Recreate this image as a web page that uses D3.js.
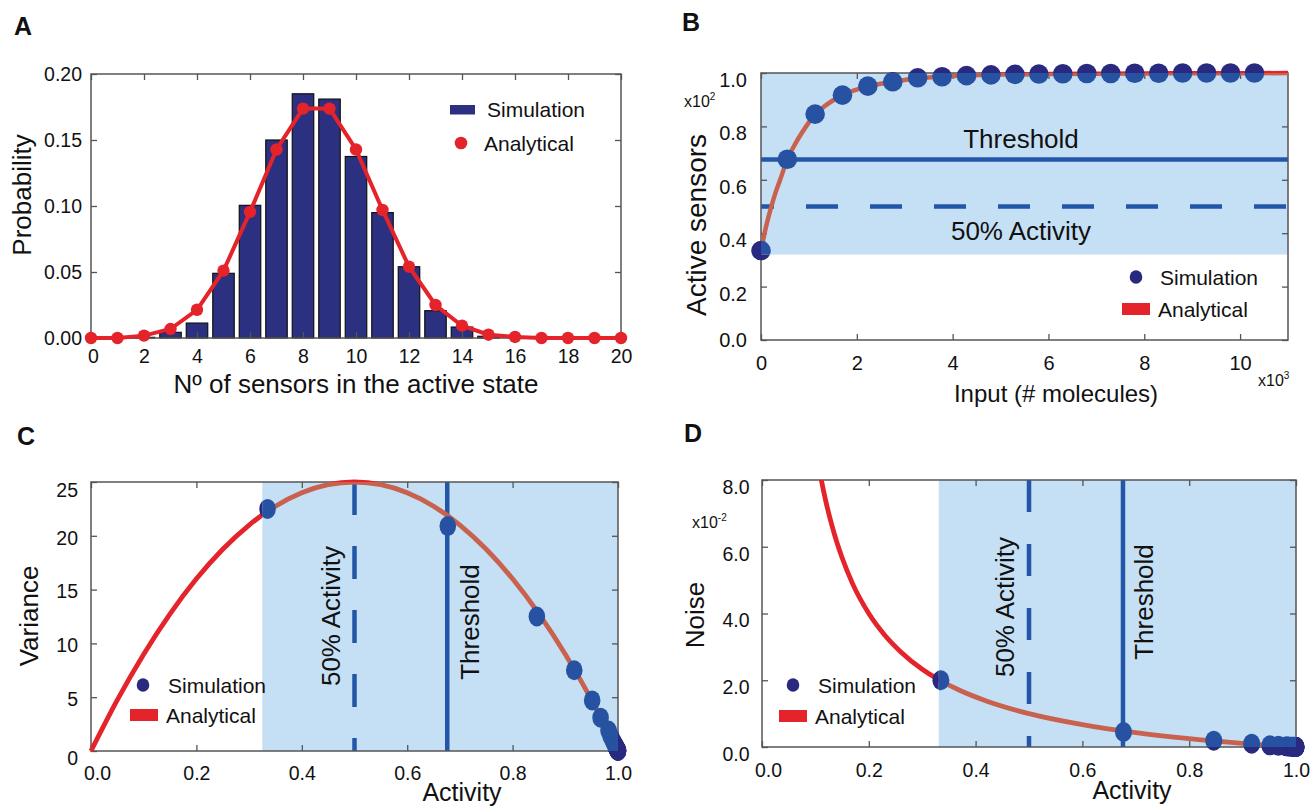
<!DOCTYPE html>
<html>
<head>
<meta charset="utf-8">
<script src="https://cdn.jsdelivr.net/npm/d3@7"></script>
<style>
body { margin: 0; background: #fff; }
svg text { font-family: "Liberation Sans", Arial, sans-serif; fill: #111; }
</style>
</head>
<body>
<div id="fig"></div>
<script>
// ---- data ----
// A: distribution of active sensors
var sensorCounts = [0,1,2,3,4,5,6,7,8,9,10,11,12,13,14,15,16,17,18,19,20];
var simProb = [0,0,0.0005,0.0043,0.0113,0.049,0.1005,0.150,0.185,0.181,0.1375,0.095,0.054,0.0207,0.0083,0.0013,0,0,0,0,0];
var anaProb = [0,0,0.0018,0.0068,0.0214,0.051,0.0955,0.1428,0.1738,0.1738,0.1428,0.097,0.054,0.025,0.0093,0.0025,0.0008,0,0,0,0];

// B: dose response (input x10^3, active sensors x10^2)
var simInput = [0,0.55,1.13,1.7,2.23,2.75,3.27,3.78,4.29,4.8,5.3,5.8,6.3,6.8,7.3,7.8,8.3,8.8,9.3,9.8,10.3];
var simActive = [0.335,0.677,0.846,0.917,0.951,0.967,0.982,0.986,0.99,0.993,0.995,0.996,0.997,0.998,0.998,0.999,0.999,1.0,1.0,1.0,1.0];
var curveInput = [0,0.1,0.2,0.3,0.4,0.55,0.7,0.85,1.0,1.13,1.3,1.5,1.7,2.0,2.23,2.5,2.75,3.27,3.78,4.3,5,6,7,8,9,10,11];
var curveActive = [0.335,0.42,0.49,0.55,0.60,0.677,0.73,0.775,0.815,0.846,0.872,0.897,0.917,0.938,0.951,0.96,0.967,0.98,0.987,0.991,0.994,0.996,0.997,0.998,0.999,0.999,1.0];

// C: variance vs activity
var actGrid = [0,0.05,0.1,0.15,0.2,0.25,0.3,0.35,0.4,0.45,0.5,0.55,0.6,0.65,0.7,0.75,0.8,0.85,0.9,0.95,1.0];
var anaVariance = [0,4.75,9.0,12.75,16.0,18.75,21.0,22.75,24.0,24.75,25.0,24.75,24.0,22.75,21.0,18.75,16.0,12.75,9.0,4.75,0];
var simVariance = [22.5,20.9,12.5,7.5,4.7,3.1,1.9,1.4,1.0,0.7,0.5,0.4,0.3,0.2,0.2,0.1,0.1,0.05,0.03,0.02,0.01];

// D: noise vs activity (x10^-2)
var noiseAct = [0.1,0.11,0.12,0.13,0.14,0.15,0.17,0.2,0.23,0.26,0.3,0.333,0.37,0.42,0.5,0.6,0.7,0.8,0.9,1.0];
var anaNoise = [9.0,8.09,7.33,6.69,6.14,5.67,4.88,4.0,3.35,2.85,2.33,2.0,1.7,1.38,1.0,0.67,0.43,0.25,0.11,0];
var simNoise = [2.0,0.45,0.19,0.1,0.05,0.035,0.02,0.014,0.01,0.007,0.005,0.004,0.003,0.002,0.002,0.001,0.001,0,0,0,0];

var thresholdAct = 0.676;
var halfAct = 0.5;

// ticks
var ticksAx = [0,2,4,6,8,10,12,14,16,18,20];
var ticksAy = [0,0.05,0.10,0.15,0.20];
var ticksBx = [0,2,4,6,8,10];
var ticksBy = [0,0.2,0.4,0.6,0.8,1.0];
var ticksAct = [0,0.2,0.4,0.6,0.8,1.0];
var ticksCy = [0,5,10,15,20,25];
var ticksDy = [0,2,4,6,8];

var RED = "#e4232b", BROWN = "#c8624e", NAVY = "#28297f", DOTBLUE = "#2752a1",
    LINEBLUE = "#2356a8", REGION = "#c5e0f5";

var svg = d3.select("#fig").append("svg").attr("width", 1311).attr("height", 807);
var defs = svg.append("defs");

function panel(id, left, top, w, h, xDom, yDom) {
  var g = svg.append("g").attr("transform", "translate(" + left + "," + top + ")");
  var x = d3.scaleLinear().domain(xDom).range([0, w]);
  var y = d3.scaleLinear().domain(yDom).range([h, 0]);
  defs.append("clipPath").attr("id", "plot-" + id)
    .append("rect").attr("width", w).attr("height", h);
  return { id: id, g: g, x: x, y: y, w: w, h: h };
}

// region clip (inside/outside the blue area)
function regionClips(p, x0, y0, x1, y1) {
  defs.append("clipPath").attr("id", "in-" + p.id)
    .append("rect").attr("x", x0).attr("y", y0).attr("width", x1 - x0).attr("height", y1 - y0);
  defs.append("clipPath").attr("id", "out-" + p.id)
    .append("path").attr("clip-rule", "evenodd")
    .attr("d", "M-2000,-2000H3000V3000H-2000Z M" + x0 + "," + y0 + "H" + x1 + "V" + y1 + "H" + x0 + "Z");
  p.g.append("rect").attr("x", x0).attr("y", y0).attr("width", x1 - x0).attr("height", y1 - y0)
    .attr("fill", REGION);
}

function axes(p, xTicks, yTicks, xFmt, yFmt, xPad, yPad, fs, yOff, xOff) {
  var b = p.g.append("g").attr("transform", "translate(0," + p.h + ")")
    .call(d3.axisBottom(p.x).tickValues(xTicks).tickFormat(xFmt).tickSize(-6).tickPadding(xPad));
  p.g.append("g").call(d3.axisTop(p.x).tickValues(xTicks).tickFormat("").tickSize(-6));
  var l = p.g.append("g")
    .call(d3.axisLeft(p.y).tickValues(yTicks).tickFormat(yFmt).tickSize(-6).tickPadding(yPad));
  p.g.append("g").attr("transform", "translate(" + p.w + ",0)")
    .call(d3.axisRight(p.y).tickValues(yTicks).tickFormat("").tickSize(-6));
  p.g.selectAll(".domain").remove();
  p.g.selectAll(".tick line").attr("stroke", "#555").attr("stroke-width", 1.3);
  p.g.selectAll(".tick text").attr("font-size", fs).attr("font-family", null).attr("fill", "#111");
  l.selectAll(".tick text").attr("transform", function (d) { return "translate(0," + yOff(d) + ")"; });
  b.selectAll(".tick text").attr("transform", function (d) { return "translate(" + xOff(d) + ",0)"; });
  p.g.append("rect").attr("width", p.w).attr("height", p.h)
    .attr("fill", "none").attr("stroke", "#555").attr("stroke-width", 1.5);
}

function text(x, y, s, fs, anchor, rot, weight) {
  var t = svg.append("text").attr("font-size", fs).attr("text-anchor", anchor || "start")
    .attr("transform", "translate(" + x + "," + y + ")" + (rot ? " rotate(" + rot + ")" : ""))
    .text(s);
  if (weight) t.attr("font-weight", weight);
  return t;
}

function power(x, y, exp) {
  var t = svg.append("text").attr("x", x).attr("y", y).attr("font-size", 16);
  t.append("tspan").text("x10");
  t.append("tspan").attr("font-size", 10).attr("dy", -7).text(exp);
}

function dotsTwoTone(p, xs, ys, rx, ry) {
  [["out", NAVY], ["in", DOTBLUE]].forEach(function (c) {
    p.g.append("g").attr("clip-path", "url(#" + c[0] + "-" + p.id + ")")
      .selectAll("ellipse").data(xs).join("ellipse")
      .attr("cx", function (d) { return p.x(d); })
      .attr("cy", function (d, i) { return p.y(ys[i]); })
      .attr("rx", rx).attr("ry", ry).attr("fill", c[1]);
  });
}

function curveTwoTone(p, xs, ys, width, clipPlot) {
  var line = d3.line().x(function (d) { return p.x(d); })
    .y(function (d, i) { return p.y(ys[i]); }).curve(d3.curveMonotoneX);
  var host = p.g.append("g");
  if (clipPlot) host.attr("clip-path", "url(#plot-" + p.id + ")");
  [["out", RED], ["in", BROWN]].forEach(function (c) {
    host.append("path").attr("clip-path", "url(#" + c[0] + "-" + p.id + ")")
      .attr("d", line(xs)).attr("fill", "none").attr("stroke", c[1]).attr("stroke-width", width);
  });
}

function legend(dx, dy, rx, ry, lx, ly, tx1, tx2) {
  svg.append("ellipse").attr("cx", dx).attr("cy", dy).attr("rx", 6.3).attr("ry", 6.8).attr("fill", NAVY);
  text(tx1, dy + 7.5, "Simulation", 21);
  svg.append("rect").attr("x", lx).attr("y", ly).attr("width", 28).attr("height", 12).attr("fill", RED);
  text(tx2, ly + 14, "Analytical", 21);
}

// ---------------- Panel A ----------------
var A = panel("a", 91, 74, 530, 264, [0, 20], [0, 0.2]);
var barW = 0.81;
A.g.selectAll("rect.bar").data(sensorCounts.filter(function (d, i) { return simProb[i] > 0; }))
  .join("rect").attr("class", "bar")
  .attr("x", function (d) { return A.x(d - barW / 2); })
  .attr("width", A.x(barW) - A.x(0))
  .attr("y", function (d) { return A.y(simProb[d]); })
  .attr("height", function (d) { return A.y(0) - A.y(simProb[d]); })
  .attr("fill", "#2b3080").attr("stroke", "#111").attr("stroke-width", 1.2);
axes(A, ticksAx, ticksAy, d3.format("d"), d3.format(".2f"), 11, 9, 19.5,
  function () { return 0; }, function (d) { return d === 0 ? 2 : 0; });
A.g.append("path")
  .attr("d", d3.line().x(function (d) { return A.x(d); }).y(function (d, i) { return A.y(anaProb[i]); })(sensorCounts))
  .attr("fill", "none").attr("stroke", RED).attr("stroke-width", 4);
A.g.selectAll("circle.ana").data(sensorCounts).join("circle").attr("class", "ana")
  .attr("cx", function (d) { return A.x(d); })
  .attr("cy", function (d, i) { return A.y(anaProb[i]); })
  .attr("r", 6.2).attr("fill", RED);
text(14, 35, "A", 25, "start", 0, "bold");
text(31, 195, "Probability", 26, "middle", -90);
text(356, 393, "N\u00ba of sensors in the active state", 26, "middle");
svg.append("rect").attr("x", 450).attr("y", 105).attr("width", 25).attr("height", 9.5).attr("fill", "#2b3080");
text(487, 116.5, "Simulation", 21);
svg.append("circle").attr("cx", 461).attr("cy", 143).attr("r", 6.3).attr("fill", RED);
text(484, 150.5, "Analytical", 21);

// ---------------- Panel B ----------------
var B = panel("b", 761, 73, 527, 267, [0, 11], [0, 1.0]);
regionClips(B, 0, B.y(1.0), B.w, B.y(0.32));
B.g.append("line").attr("x1", 0).attr("x2", B.w).attr("y1", B.y(thresholdAct)).attr("y2", B.y(thresholdAct))
  .attr("stroke", LINEBLUE).attr("stroke-width", 4.5);
B.g.append("line").attr("x1", 0).attr("x2", B.w).attr("y1", B.y(halfAct)).attr("y2", B.y(halfAct))
  .attr("stroke", LINEBLUE).attr("stroke-width", 4.5)
  .attr("stroke-dasharray", "32,32").attr("stroke-dashoffset", 19);
axes(B, ticksBx, ticksBy, d3.format("d"), d3.format(".1f"), 16, 14, 20,
  function (d) { return d === 0 ? 0 : 7; }, function () { return 0; });
curveTwoTone(B, curveInput, curveActive, 4.5, false);
dotsTwoTone(B, simInput, simActive, 9.8, 9.8);
text(682, 31, "B", 25, "start", 0, "bold");
text(1021, 148, "Threshold", 26, "middle");
text(1021, 240, "50% Activity", 26, "middle");
text(706, 225, "Active sensors", 28, "middle", -90);
text(1056, 402, "Input (# molecules)", 24, "middle");
power(684, 107, "2");
power(1258, 386, "3");
legend(1136, 277, 0, 0, 1122, 303, 1160, 1158);

// ---------------- Panel C ----------------
var C = panel("c", 91, 482, 527, 269, [0, 1], [0, 25]);
regionClips(C, C.x(0.325), 0, C.w, C.h);
C.g.append("line").attr("x1", C.x(halfAct)).attr("x2", C.x(halfAct)).attr("y1", 0).attr("y2", C.h)
  .attr("stroke", LINEBLUE).attr("stroke-width", 4.5).attr("stroke-dasharray", "33,31");
C.g.append("line").attr("x1", C.x(thresholdAct)).attr("x2", C.x(thresholdAct)).attr("y1", 0).attr("y2", C.h)
  .attr("stroke", LINEBLUE).attr("stroke-width", 4.5);
axes(C, ticksAct, ticksCy, d3.format(".1f"), d3.format("d"), 15.5, 13, 19.5,
  function (d) { return d === 25 ? 8 : d === 0 ? 7 : 2; }, function (d) { return d === 0 ? 6 : 0; });
curveTwoTone(C, actGrid, anaVariance, 4.8, false);
dotsTwoTone(C, simActive, simVariance, 8.3, 10);
text(17, 445, "C", 25, "start", 0, "bold");
text(340, 616, "50% Activity", 26, "middle", -90);
text(479, 622, "Threshold", 26, "middle", -90);
text(38, 616, "Variance", 26, "middle", -90);
text(462, 801, "Activity", 25, "middle");
legend(143, 685, 0, 0, 130, 709, 168, 166);

// ---------------- Panel D ----------------
var D = panel("d", 762, 480, 534, 267, [0, 1], [0, 8]);
regionClips(D, D.x(0.331), 0, D.w, D.h);
D.g.append("line").attr("x1", D.x(halfAct)).attr("x2", D.x(halfAct)).attr("y1", 0).attr("y2", D.h)
  .attr("stroke", LINEBLUE).attr("stroke-width", 4.5).attr("stroke-dasharray", "32,32");
D.g.append("line").attr("x1", D.x(thresholdAct)).attr("x2", D.x(thresholdAct)).attr("y1", 0).attr("y2", D.h)
  .attr("stroke", LINEBLUE).attr("stroke-width", 4.5);
axes(D, ticksAct, ticksDy, d3.format(".1f"), d3.format(".1f"), 16.5, 12.5, 19.5,
  function () { return 7; }, function (d) { return d === 0 ? 6 : 0; });
curveTwoTone(D, noiseAct, anaNoise, 4.8, true);
dotsTwoTone(D, simActive, simNoise, 8.5, 10);
text(684, 442, "D", 25, "start", 0, "bold");
text(1014, 607, "50% Activity", 26, "middle", -90);
text(1153, 602, "Threshold", 26, "middle", -90);
text(704, 615, "Noise", 26, "middle", -90);
text(1132, 799, "Activity", 25, "middle");
power(692, 528, "-2");
legend(793, 685, 0, 0, 779, 710, 818, 815);
</script>
</body>
</html>
